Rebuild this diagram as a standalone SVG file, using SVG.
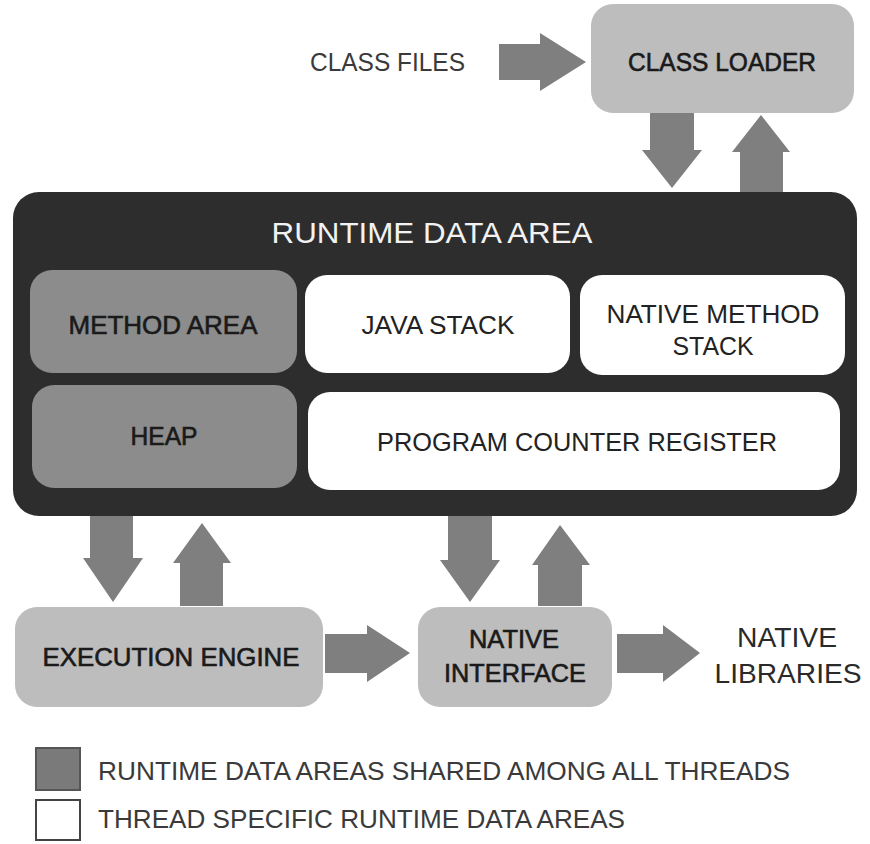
<svg xmlns="http://www.w3.org/2000/svg" width="870" height="844" viewBox="0 0 870 844">
<style>
  text { font-family: "Liberation Sans", Arial, sans-serif; }
  .lbl { font-size: 25px; fill: #222; text-anchor: middle; }
  .bold { fill: #1a1a1a; stroke: #1a1a1a; stroke-width: 0.6; }
  .plain { font-size: 25px; fill: #3a3a3a; }
  .shared { fill: #8c8c8c; }
  .thread { fill: #ffffff; }
  .comp { fill: #bdbdbd; }
  .arrow { fill: #7f7f7f; }
</style>
<rect width="870" height="844" fill="#ffffff"/>

<g id="connectors">
  <path class="arrow" d="M499,44 H540 V33 L586,62 L540,91 V80 H499 Z"/>
  <path class="arrow" d="M650,113 H694 V150 H702 L672,188 L642,150 H650 Z"/>
  <path class="arrow" d="M740,192 V152 H732 L761,115 L790,152 H783 V192 Z"/>
  <path class="arrow" d="M90,515 H133 V558 H143 L113,602 L83,558 H90 Z"/>
  <path class="arrow" d="M180,606 V563 H173 L202,523 L231,563 H223 V606 Z"/>
  <path class="arrow" d="M448,515 H492 V560 H500 L470,602 L440,560 H448 Z"/>
  <path class="arrow" d="M538,606 V565 H532 L560,525 L590,565 H582 V606 Z"/>
  <path class="arrow" d="M325,634 H367 V625 L410,653 L367,682 V673 H325 Z"/>
  <path class="arrow" d="M617,634 H663 V625 L700,653 L663,682 V673 H617 Z"/>
</g>

<g id="class-files">
  <text class="plain" x="310" y="71" textLength="155" lengthAdjust="spacingAndGlyphs">CLASS FILES</text>
</g>

<g id="class-loader">
  <rect class="comp" x="591" y="4" width="263" height="109" rx="22"/>
  <text class="lbl bold" x="722" y="71" textLength="188" lengthAdjust="spacingAndGlyphs">CLASS LOADER</text>
</g>

<g id="runtime-data-area">
  <rect x="13" y="192" width="844" height="324" rx="26" fill="#2d2d2d"/>
  <text x="432" y="243" font-size="30" fill="#f2f2f2" text-anchor="middle" textLength="321" lengthAdjust="spacingAndGlyphs">RUNTIME DATA AREA</text>
</g>

<g id="method-area">
  <rect class="shared" x="30" y="270" width="267" height="103" rx="22"/>
  <text class="lbl bold" x="163" y="334" textLength="189" lengthAdjust="spacingAndGlyphs">METHOD AREA</text>
</g>

<g id="java-stack">
  <rect class="thread" x="305" y="275" width="265" height="98" rx="22"/>
  <text class="lbl" x="438" y="334" textLength="153" lengthAdjust="spacingAndGlyphs">JAVA STACK</text>
</g>

<g id="native-method-stack">
  <rect class="thread" x="580" y="275" width="265" height="100" rx="22"/>
  <text class="lbl" x="713" y="323" textLength="213" lengthAdjust="spacingAndGlyphs">NATIVE METHOD</text>
  <text class="lbl" x="713" y="355" textLength="81" lengthAdjust="spacingAndGlyphs">STACK</text>
</g>

<g id="heap">
  <rect class="shared" x="32" y="385" width="265" height="103" rx="22"/>
  <text class="lbl bold" x="164" y="445" textLength="67" lengthAdjust="spacingAndGlyphs">HEAP</text>
</g>

<g id="program-counter-register">
  <rect class="thread" x="308" y="392" width="532" height="98" rx="22"/>
  <text class="lbl" x="577" y="451" textLength="400" lengthAdjust="spacingAndGlyphs">PROGRAM COUNTER REGISTER</text>
</g>

<g id="execution-engine">
  <rect class="comp" x="15" y="607" width="308" height="100" rx="22"/>
  <text class="lbl bold" x="171" y="666" textLength="257" lengthAdjust="spacingAndGlyphs">EXECUTION ENGINE</text>
</g>

<g id="native-interface">
  <rect class="comp" x="418" y="607" width="194" height="100" rx="22"/>
  <text class="lbl bold" x="514" y="648" textLength="90" lengthAdjust="spacingAndGlyphs">NATIVE</text>
  <text class="lbl bold" x="515" y="682" textLength="142" lengthAdjust="spacingAndGlyphs">INTERFACE</text>
</g>

<g id="native-libraries">
  <text x="787" y="647" font-size="28" fill="#2a2a2a" text-anchor="middle" textLength="100" lengthAdjust="spacingAndGlyphs">NATIVE</text>
  <text x="788" y="683" font-size="28" fill="#2a2a2a" text-anchor="middle" textLength="147" lengthAdjust="spacingAndGlyphs">LIBRARIES</text>
</g>

<g id="legend">
  <rect x="36" y="748" width="44" height="42" fill="#7a7a7a" stroke="#555" stroke-width="2"/>
  <text class="plain" x="98" y="780" textLength="692" lengthAdjust="spacingAndGlyphs">RUNTIME DATA AREAS SHARED AMONG ALL THREADS</text>
  <rect x="36" y="800" width="44" height="40" fill="#ffffff" stroke="#444" stroke-width="2"/>
  <text class="plain" x="98" y="828" textLength="527" lengthAdjust="spacingAndGlyphs">THREAD SPECIFIC RUNTIME DATA AREAS</text>
</g>
</svg>
